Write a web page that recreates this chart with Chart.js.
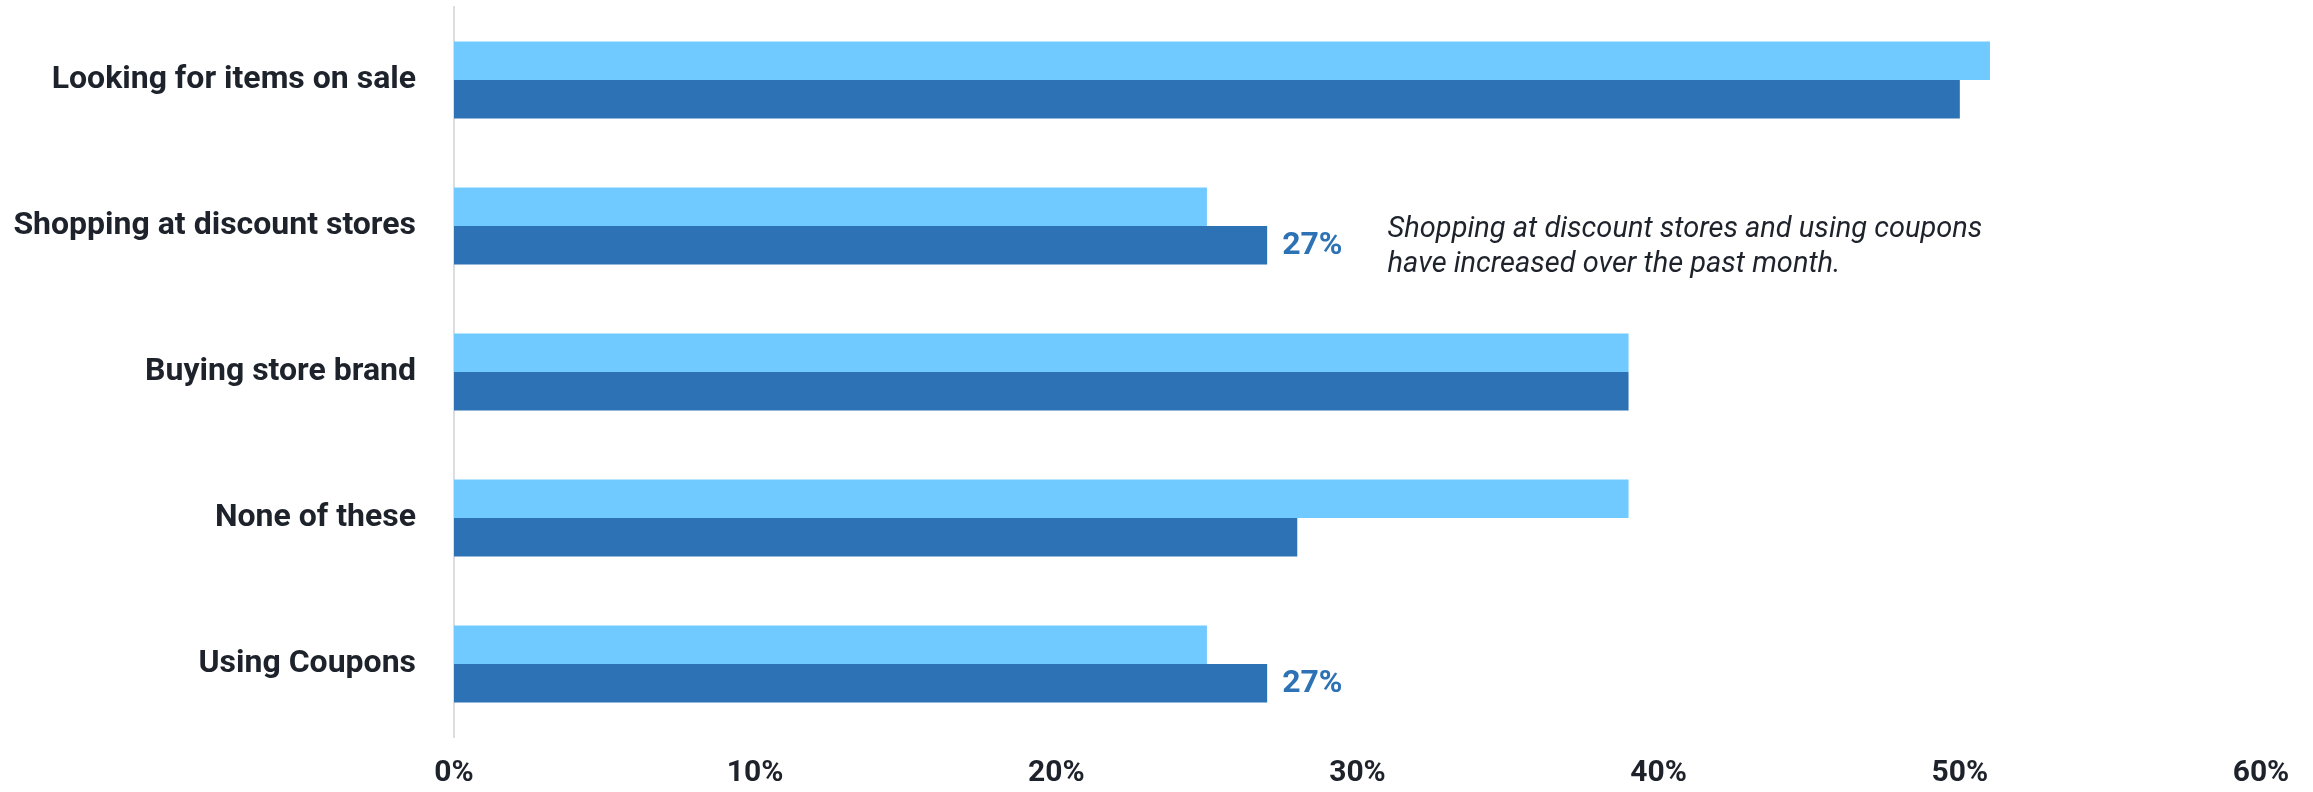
<!DOCTYPE html>
<html>
<head>
<meta charset="utf-8">
<title>Shopping habits</title>
<script src="https://cdn.jsdelivr.net/npm/chart.js@4/dist/chart.umd.min.js"></script>
<style>
  html, body { margin: 0; padding: 0; background: #ffffff; }
  #chartwrap { width: 2313px; height: 792px; position: relative; }
</style>
</head>
<body>
<div id="chartwrap"><canvas id="ShoppingChart"></canvas></div>
<script>
'use strict';
//** Globals */

let categories = ['Looking for items on sale', 'Shopping at discount stores', 'Buying store brand', 'None of these', 'Using Coupons'];
let previousmonth = [51, 25, 39, 39, 25];
let currentmonth = [50, 27, 39, 28, 27];
let ticklabels = ['0%', '10%', '20%', '30%', '40%', '50%', '60%'];

// bars that get a value label at their end
let labelledcategories = ['Shopping at discount stores', 'Using Coupons'];

let notelines = ['Shopping at discount stores and using coupons', 'have increased over the past month.'];

let lightblue = '#70c9ff';
let darkblue = '#2d72b5';
let textcolor = '#1d222b';

let ctx = document.getElementById('ShoppingChart');

//** Plugins */

let valuelabels = {
  id: 'valuelabels',
  afterDatasetsDraw(chart){
    let c = chart.ctx;
    let meta = chart.getDatasetMeta(1);
    c.save();
    c.font = 'bold 32px Roboto';
    c.fillStyle = darkblue;
    c.textAlign = 'left';
    c.textBaseline = 'middle';
    for (let i = 0; i < categories.length; i++){
      if (labelledcategories.includes(categories[i])){
        let bar = meta.data[i];
        c.fillText(`${currentmonth[i]}%`, bar.x + 15, bar.y + 1);
      }
    }
    c.restore();
  }
};

let note = {
  id: 'note',
  afterDraw(chart){
    let c = chart.ctx;
    let x = chart.scales.x.getPixelForValue(31);
    let y = chart.scales.y.getPixelForValue(1);
    c.save();
    c.font = 'italic 29px Roboto';
    c.fillStyle = textcolor;
    c.textAlign = 'left';
    c.textBaseline = 'middle';
    c.fillText(notelines[0], x, y + 4);
    c.fillText(notelines[1], x, y + 39);
    c.restore();
  }
};

//** Chart */

let chartObj = {
  type: 'bar',
  data: {
    labels: categories,
    datasets: [{
      label: 'Previous month',
      data: previousmonth,
      backgroundColor: lightblue,
      borderWidth: 0
    },
    {
      label: 'Current month',
      data: currentmonth,
      backgroundColor: darkblue,
      borderWidth: 0
    }]
  },
  options: {
    indexAxis: 'y',
    responsive: false,
    animation: false,
    devicePixelRatio: 1,
    categoryPercentage: 0.527,
    barPercentage: 1,
    layout: {
      padding: { top: 7, right: 52, bottom: 0, left: 0 }
    },
    plugins: {
      legend: { display: false },
      tooltip: { enabled: false }
    },
    scales: {
      x: {
        min: 0,
        max: 60,
        afterFit(scale){ scale.height = 55; },
        afterBuildTicks(scale){
          scale.ticks = ticklabels.map((t, i) => ({ value: i * 10 }));
        },
        grid: { display: false, drawTicks: false },
        border: { display: false },
        ticks: {
          padding: 18,
          color: textcolor,
          font: { family: 'Roboto', weight: 'bold', size: 30 },
          callback: (value, index) => ticklabels[index]
        }
      },
      y: {
        afterFit(scale){
          scale.width = 454;
          // tick padding would otherwise push the plot down
          scale.paddingTop = 0;
          scale.paddingBottom = 0;
        },
        grid: { display: false, drawTicks: false },
        border: { display: true, color: '#dcdde0', width: 2 },
        ticks: {
          padding: 38,
          color: textcolor,
          font: { family: 'Roboto', weight: 'bold', size: 32 }
        }
      }
    }
  },
  plugins: [valuelabels, note]
};

ctx.width = 2313;
ctx.height = 792;
let shoppingchart = new Chart(ctx, chartObj);
</script>
</body>
</html>
